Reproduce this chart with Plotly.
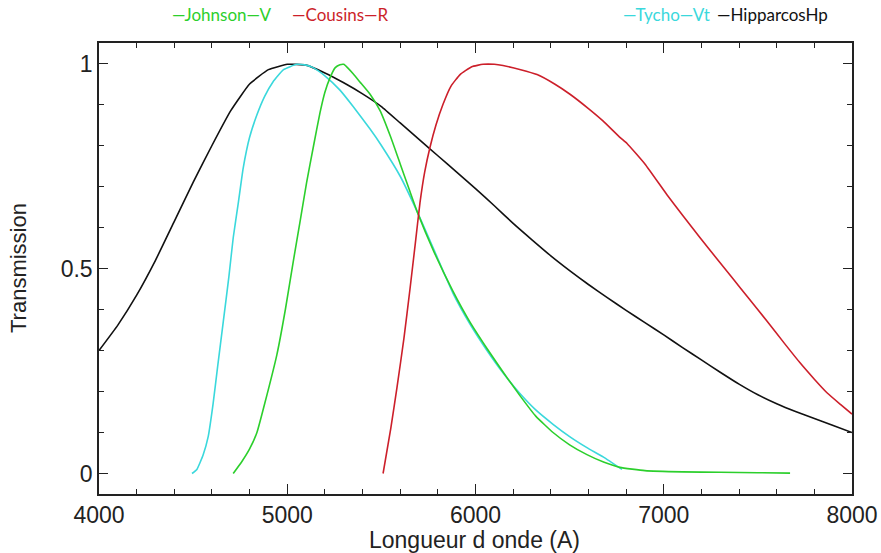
import plotly.graph_objects as go

# Johnson V (green)
johnson_wl = [4713, 4760, 4800, 4839, 4880, 4945, 4990, 5033, 5070, 5103, 5140, 5174, 5200, 5227, 5255,
              5280, 5300, 5320, 5350, 5386, 5440, 5493, 5550, 5600, 5650, 5689, 5780, 5880, 5970, 6061,
              6150, 6236, 6320, 6412, 6500, 6592, 6680, 6767, 6900, 7100, 7300, 7500, 7671]
johnson_t = [0.0, 0.03, 0.06, 0.10, 0.17, 0.29, 0.40, 0.52, 0.62, 0.71, 0.80, 0.88, 0.93, 0.965, 0.99,
             0.997, 0.998, 0.99, 0.975, 0.955, 0.925, 0.885, 0.82, 0.755, 0.69, 0.64, 0.54, 0.445, 0.37, 0.305,
             0.245, 0.19, 0.14, 0.10, 0.07, 0.046, 0.028, 0.015, 0.007, 0.004, 0.003, 0.002, 0.001]

# Cousins R (red)
cousins_wl = [5509, 5550, 5583, 5620, 5652, 5680, 5705, 5730, 5758, 5790, 5827, 5870, 5918, 5980, 6040,
              6100, 6146, 6240, 6327, 6420, 6502, 6600, 6677, 6767, 6805, 6900, 7017, 7100, 7193, 7280,
              7368, 7450, 7548, 7640, 7724, 7800, 7867, 7940, 8000]
cousins_t = [0.0, 0.11, 0.21, 0.33, 0.45, 0.56, 0.66, 0.735, 0.795, 0.85, 0.90, 0.945, 0.973, 0.992, 0.998,
             0.998, 0.995, 0.985, 0.973, 0.95, 0.925, 0.89, 0.86, 0.82, 0.805, 0.755, 0.68, 0.63, 0.575, 0.525,
             0.475, 0.428, 0.372, 0.318, 0.27, 0.23, 0.197, 0.168, 0.145]

# Tycho Vt (cyan)
tycho_wl = [4494, 4520, 4553, 4580, 4606, 4630, 4660, 4690, 4713, 4740, 4766, 4800, 4839, 4880, 4924,
            4980, 5050, 5100, 5137, 5200, 5280, 5350, 5440, 5500, 5600, 5689, 5780, 5880, 5970, 6061,
            6150, 6236, 6320, 6412, 6500, 6592, 6680, 6778]
tycho_t = [0.0, 0.01, 0.045, 0.09, 0.17, 0.26, 0.37, 0.48, 0.575, 0.66, 0.745, 0.82, 0.875, 0.92, 0.955,
           0.985, 0.998, 0.996, 0.99, 0.97, 0.935, 0.895, 0.84, 0.80, 0.725, 0.64, 0.545, 0.44, 0.365, 0.30,
           0.243, 0.195, 0.155, 0.12, 0.09, 0.063, 0.04, 0.01]

# Hipparcos Hp (black)
hipparcos_wl = [4000, 4100, 4200, 4300, 4400, 4500, 4600, 4700, 4800, 4900, 5000, 5100, 5200, 5300, 5400,
                5500, 5600, 5700, 5800, 5900, 6000, 6100, 6200, 6300, 6400, 6500, 6600, 6700, 6800, 6900,
                7000, 7100, 7200, 7300, 7400, 7500, 7600, 7700, 7800, 7900, 8000]
hipparcos_t = [0.30, 0.362, 0.435, 0.52, 0.615, 0.71, 0.80, 0.885, 0.95, 0.985, 0.998, 0.996, 0.977, 0.953, 0.926,
               0.895, 0.855, 0.815, 0.775, 0.735, 0.695, 0.653, 0.61, 0.57, 0.531, 0.495, 0.461, 0.429, 0.398, 0.368,
               0.338, 0.307, 0.277, 0.247, 0.218, 0.192, 0.17, 0.151, 0.134, 0.117, 0.10]

x_ticks = [4000, 5000, 6000, 7000, 8000]
y_ticks = [0, 0.5, 1]
y_tick_labels = ["0", "0.5", "1"]

GREEN = "#2ccf2c"
RED = "#cc1f2a"
CYAN = "#3ad8dc"
BLACK = "#111111"

fig = go.Figure()
for wl, t, c, name in [
    (hipparcos_wl, hipparcos_t, BLACK, "HipparcosHp"),
    (tycho_wl, tycho_t, CYAN, "Tycho-Vt"),
    (johnson_wl, johnson_t, GREEN, "Johnson-V"),
    (cousins_wl, cousins_t, RED, "Cousins-R"),
]:
    fig.add_trace(go.Scatter(x=wl, y=t, mode="lines", name=name,
                             line=dict(color=c, width=1.6, shape="spline", smoothing=0.4),
                             showlegend=False))

TXT = '"Liberation Sans", Arial, sans-serif'
axis_common = dict(
    showgrid=False, zeroline=False, showline=True, linecolor="#222", linewidth=1.5,
    mirror="allticks", ticks="inside", tickcolor="#222", tickwidth=1.2, automargin=False,
    tickfont=dict(family=TXT, size=23, color="#222"),
)

fig.update_xaxes(range=[4000, 8000], tickvals=x_ticks, ticklen=10,
                 minor=dict(ticks="inside", dtick=200, ticklen=5, tickcolor="#222", tickwidth=1.2),
                 **axis_common)
fig.update_yaxes(range=[-0.05, 1.05], tickvals=y_ticks, ticktext=y_tick_labels, ticklen=9,
                 minor=dict(ticks="inside", dtick=0.1, ticklen=5, tickcolor="#222", tickwidth=1.2),
                 **axis_common)

legend_font = "Lato, 'Noto Sans', sans-serif"
ann = [
    dict(text="\u2014Johnson\u2014V", x=(170 - 99) / 753, color=GREEN),
    dict(text="\u2014Cousins\u2014R", x=(290 - 99) / 753, color=RED),
    dict(text="\u2014Tycho\u2014Vt", x=(621 - 99) / 753, color=CYAN),
    dict(text="\u2014HipparcosHp", x=(715 - 99) / 753, color=BLACK),
]
for a in ann:
    fig.add_annotation(text=a["text"], x=a["x"], y=1.064, xref="paper", yref="paper",
                       xanchor="left", yanchor="middle", showarrow=False,
                       font=dict(family=legend_font, size=17, color=a["color"]))

fig.add_annotation(text="Transmission", x=-0.1076, y=0.501, xref="paper", yref="paper",
                   textangle=-90, showarrow=False, xanchor="center", yanchor="middle",
                   font=dict(family=TXT, size=22, color="#222"))
fig.add_annotation(text="Longueur d onde (A)", x=0.4993, y=-0.102, xref="paper", yref="paper",
                   showarrow=False, xanchor="center", yanchor="middle",
                   font=dict(family=TXT, size=23, color="#222"))

fig.update_layout(width=881, height=553, margin=dict(l=99, r=29, t=43, b=59, autoexpand=False),
                  plot_bgcolor="white", paper_bgcolor="white")

fig.write_html("out.html")
